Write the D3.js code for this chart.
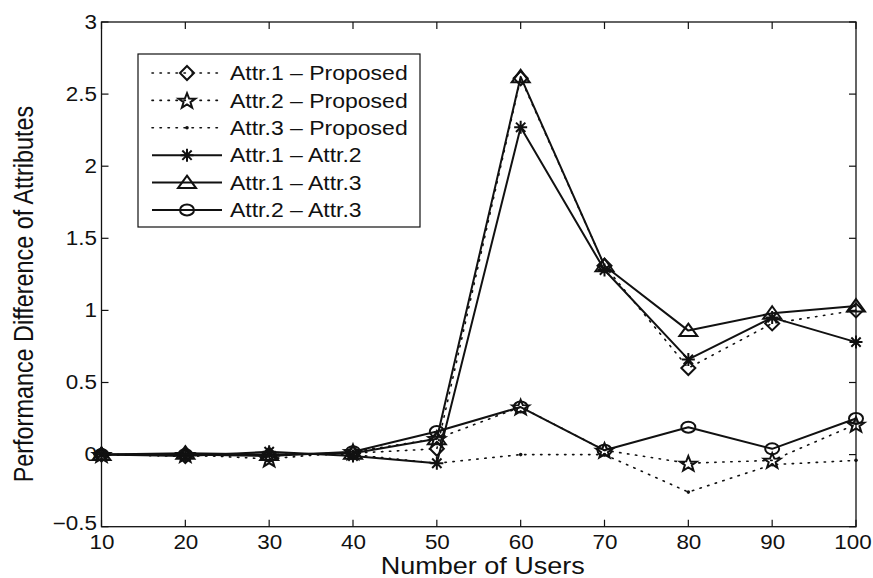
<!DOCTYPE html>
<html>
<head>
<meta charset="utf-8">
<script src="https://cdn.jsdelivr.net/npm/d3@7/dist/d3.min.js"></script>
<style>
  html, body { margin: 0; padding: 0; background: #fff; }
  svg { display: block; }
  text { font-family: "Liberation Sans", Arial, Helvetica, sans-serif; fill: #111; }
</style>
</head>
<body>
<svg id="chart" width="873" height="578"></svg>
<script>
// Number of users on the x axis
const users = [10, 20, 30, 40, 50, 60, 70, 80, 90, 100];

// Performance differences per attribute pair
const attr1Proposed = [0, -0.01, 0, 0.01, 0.04, 2.61, 1.31, 0.60, 0.91, 1.00];
const attr2Proposed = [0, 0, -0.03, 0.02, 0.11, 0.33, 0.03, -0.06, -0.04, 0.21];
const attr3Proposed = [0, -0.01, 0, 0, -0.06, 0.00, 0.00, -0.26, -0.07, -0.04];
const attr1Attr2 = [0, -0.01, 0.02, -0.01, -0.06, 2.27, 1.28, 0.66, 0.95, 0.78];
const attr1Attr3 = [0, 0.01, 0, 0.01, 0.11, 2.62, 1.31, 0.86, 0.98, 1.03];
const attr2Attr3 = [0, 0, -0.01, 0.02, 0.16, 0.33, 0.03, 0.19, 0.04, 0.25];

const seriesNames = ["Attr.1 \u2013 Proposed", "Attr.2 \u2013 Proposed", "Attr.3 \u2013 Proposed",
                     "Attr.1 \u2013 Attr.2", "Attr.1 \u2013 Attr.3", "Attr.2 \u2013 Attr.3"];

const xTicks = [10, 20, 30, 40, 50, 60, 70, 80, 90, 100];
const yTicks = [-0.5, 0, 0.5, 1, 1.5, 2, 2.5, 3];
const yTickLabels = ["\u22120.5", "0", "0.5", "1", "1.5", "2", "2.5", "3"];

const xLabel = "Number of Users";
const yLabel = "Performance Difference of Attributes";

// ---- drawing ----
const svg = d3.select("#chart");
const plot = { left: 101.5, right: 856, top: 22, bottom: 526.7 };
const stretch = 1.15; // glyphs are set slightly wide

const x = d3.scaleLinear().domain([10, 100]).range([plot.left, plot.right]);
const y = d3.scaleLinear().domain([-0.5, 3]).range([plot.bottom, plot.top]);

// marker shapes (open, MATLAB-like)
const markers = {
  diamond: g => g.append("path").attr("d", "M0,-7L7,0L0,7L-7,0Z"),
  star: g => {
    const pts = [];
    for (let i = 0; i < 10; i++) {
      const r = i % 2 === 0 ? 8 : 3.3;
      const a = -Math.PI / 2 + i * Math.PI / 5;
      pts.push([r * Math.cos(a) * 1.1, r * Math.sin(a) + 0.8]);
    }
    g.append("path").attr("d", "M" + pts.map(p => p.join(",")).join("L") + "Z");
  },
  point: g => g.append("circle").attr("r", 1.8).attr("fill", "#111").attr("stroke", "none"),
  asterisk: g => {
    const r = 6.5;
    g.append("path").attr("d",
      `M${-r},0L${r},0M0,${-r}L0,${r}` +
      `M${-r * 0.72},${-r * 0.72}L${r * 0.72},${r * 0.72}M${-r * 0.72},${r * 0.72}L${r * 0.72},${-r * 0.72}`);
  },
  triangle: g => g.append("path").attr("d", "M0,-7L9,5.5L-9,5.5Z"),
  circle: g => g.append("ellipse").attr("rx", 7).attr("ry", 5.5)
};

const series = [
  { name: seriesNames[0], values: attr1Proposed, dash: "1.4,6.6", marker: "diamond" },
  { name: seriesNames[1], values: attr2Proposed, dash: "1.4,6.6", marker: "star" },
  { name: seriesNames[2], values: attr3Proposed, dash: "1.4,6.6", marker: "point" },
  { name: seriesNames[3], values: attr1Attr2, dash: null, marker: "asterisk" },
  { name: seriesNames[4], values: attr1Attr3, dash: null, marker: "triangle" },
  { name: seriesNames[5], values: attr2Attr3, dash: null, marker: "circle" }
];

const line = d3.line().x(d => x(d[0])).y(d => y(d[1]));

series.forEach(s => {
  const pts = users.map((u, i) => [u, s.values[i]]);
  svg.append("path")
    .datum(pts)
    .attr("d", line)
    .attr("fill", "none")
    .attr("stroke", "#111")
    .attr("stroke-width", s.dash ? 1.6 : 2)
    .attr("stroke-linecap", s.dash ? "round" : "butt")
    .attr("stroke-linejoin", "round")
    .attr("stroke-dasharray", s.dash);
  const mg = svg.append("g")
    .attr("fill", "none").attr("stroke", "#111").attr("stroke-width", 2);
  pts.forEach(p => {
    const g = mg.append("g").attr("transform", `translate(${x(p[0])},${y(p[1])})`);
    markers[s.marker](g);
  });
});

// axes box
svg.append("rect")
  .attr("x", plot.left).attr("y", plot.top)
  .attr("width", plot.right - plot.left).attr("height", plot.bottom - plot.top)
  .attr("fill", "none").attr("stroke", "#111").attr("stroke-width", 1.3);

const tickLen = 7;
const axisBottom = d3.axisBottom(x).tickValues(xTicks).tickSize(0).tickPadding(8).tickFormat(d3.format("d"));
const gx = svg.append("g").attr("transform", `translate(0,${plot.bottom})`).call(axisBottom);
gx.select(".domain").remove();
gx.selectAll("text")
  .attr("font-size", 19.5).attr("font-family", "Liberation Sans, Arial, sans-serif").attr("fill", "#111")
  .attr("transform", `scale(${stretch},1)`);
// keep the last label inside the page
gx.selectAll(".tick").filter(d => d === 100).select("text").attr("x", -3);

const yLabelMap = new Map(yTicks.map((t, i) => [t, yTickLabels[i]]));
const axisLeft = d3.axisLeft(y).tickValues(yTicks).tickSize(0).tickPadding(4).tickFormat(d => yLabelMap.get(d));
const gy = svg.append("g").attr("transform", `translate(${plot.left},0)`).call(axisLeft);
gy.select(".domain").remove();
gy.selectAll("text")
  .attr("font-size", 19.5).attr("font-family", "Liberation Sans, Arial, sans-serif").attr("fill", "#111")
  .attr("transform", `scale(${stretch},1)`);
gy.selectAll(".tick").filter(d => d === -0.5).select("text").attr("dy", "0.15em");

// inward ticks on all four sides
const ticks = svg.append("g").attr("stroke", "#111").attr("stroke-width", 1.2);
xTicks.forEach(t => {
  ticks.append("line").attr("x1", x(t)).attr("x2", x(t)).attr("y1", plot.bottom).attr("y2", plot.bottom - tickLen);
  ticks.append("line").attr("x1", x(t)).attr("x2", x(t)).attr("y1", plot.top).attr("y2", plot.top + tickLen);
});
yTicks.forEach(t => {
  ticks.append("line").attr("x1", plot.left).attr("x2", plot.left + tickLen).attr("y1", y(t)).attr("y2", y(t));
  ticks.append("line").attr("x1", plot.right).attr("x2", plot.right - tickLen).attr("y1", y(t)).attr("y2", y(t));
});

// axis titles
svg.append("text")
  .attr("transform", `translate(${(plot.left + plot.right) / 2 + 4},574) scale(${stretch},1)`)
  .attr("text-anchor", "middle").attr("font-size", 23.5)
  .text(xLabel);
svg.append("text")
  .attr("transform", `translate(33,294) scale(${stretch},1) rotate(-90)`)
  .attr("text-anchor", "middle").attr("font-size", 23.4)
  .text(yLabel);

// legend
const lg = svg.append("g");
const lgBox = { x: 138, y: 54, w: 282, h: 173 };
lg.append("rect")
  .attr("x", lgBox.x).attr("y", lgBox.y).attr("width", lgBox.w).attr("height", lgBox.h)
  .attr("fill", "#fff").attr("stroke", "#111").attr("stroke-width", 1.2);
series.forEach((s, i) => {
  const ry = 73 + i * 27.4;
  lg.append("line")
    .attr("x1", 152).attr("x2", 222).attr("y1", ry).attr("y2", ry)
    .attr("stroke", "#111")
    .attr("stroke-width", s.dash ? 1.6 : 2)
    .attr("stroke-linecap", s.dash ? "round" : "butt")
    .attr("stroke-dasharray", s.dash);
  const g = lg.append("g").attr("transform", `translate(187,${ry})`)
    .attr("fill", "none").attr("stroke", "#111").attr("stroke-width", 2);
  markers[s.marker](g);
  lg.append("text")
    .attr("transform", `translate(230,${ry}) scale(${stretch},1)`)
    .attr("dy", "0.36em")
    .attr("font-size", 20)
    .text(s.name);
});
</script>
</body>
</html>
